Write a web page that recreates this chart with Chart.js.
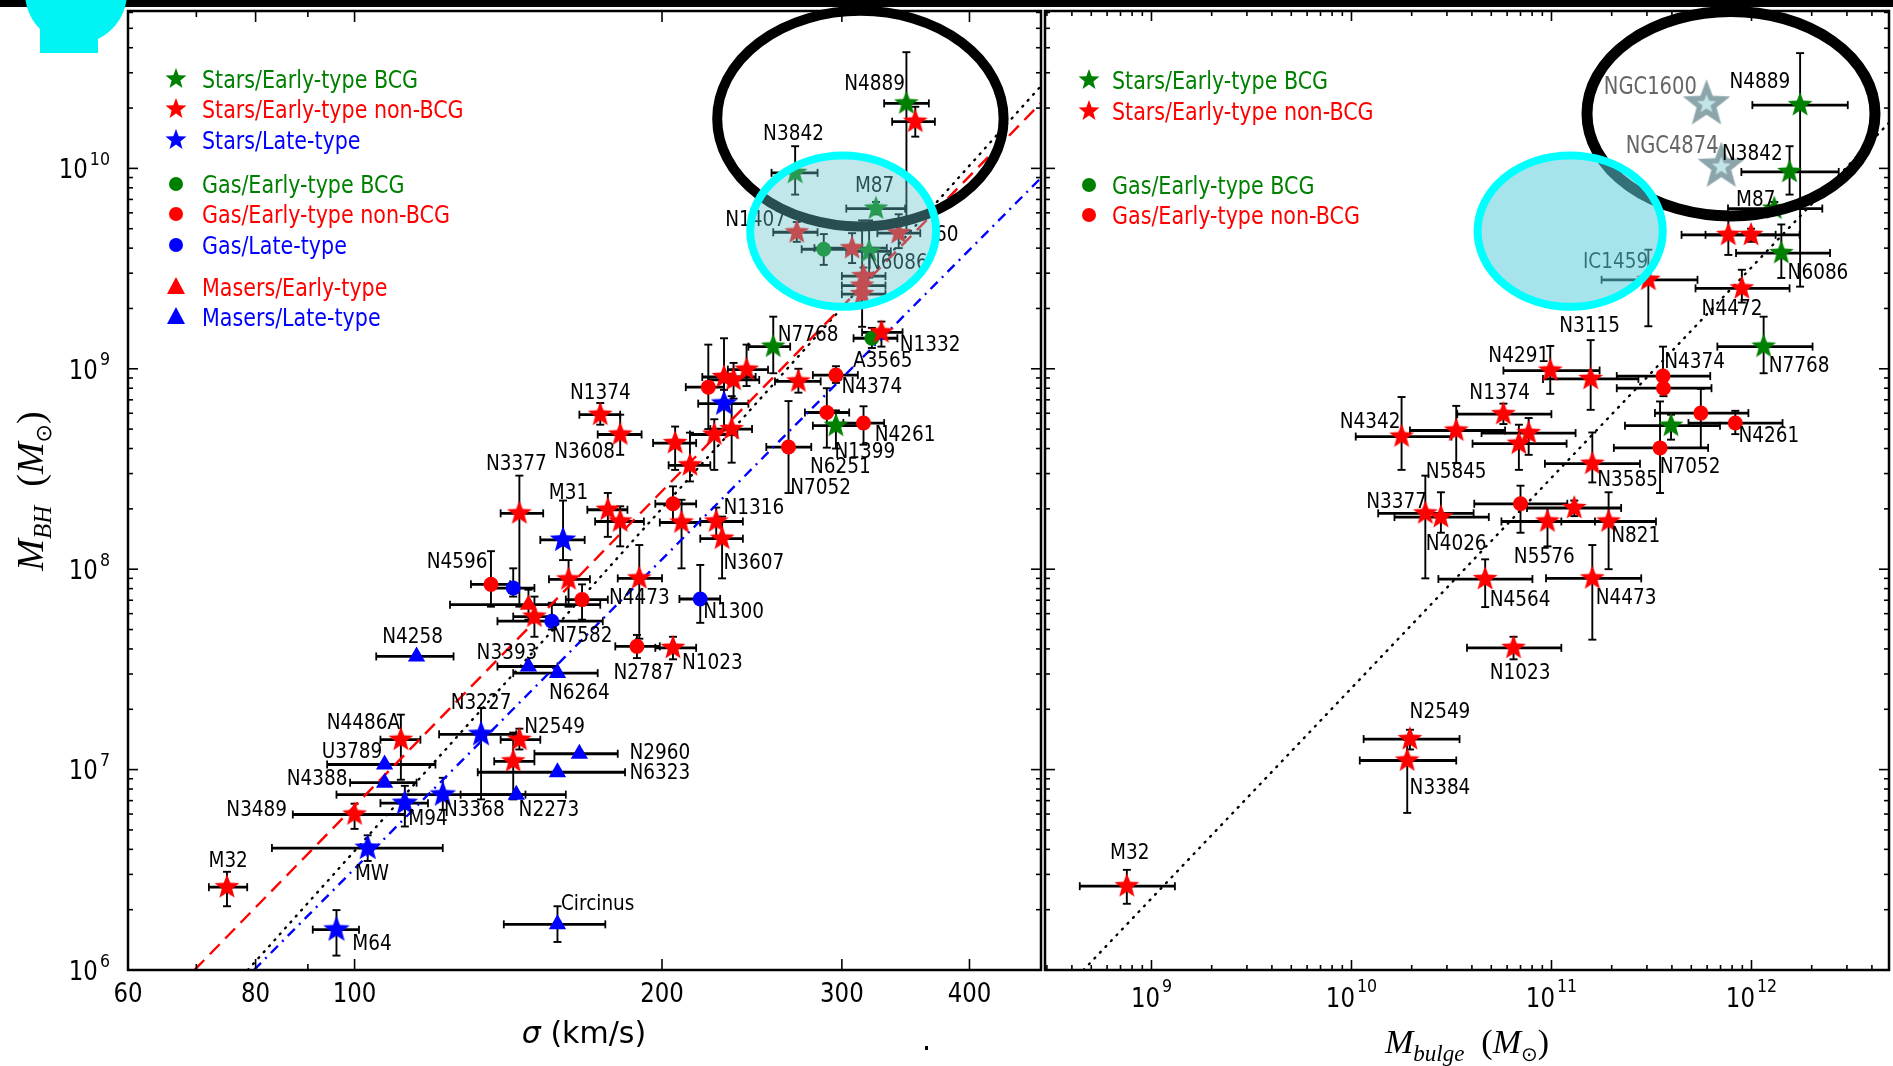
<!DOCTYPE html>
<html>
<head>
<meta charset="utf-8">
<title>M-sigma and M-Mbulge</title>
<script src="https://cdn.jsdelivr.net/npm/chart.js@4.4.1/dist/chart.umd.min.js"></script>
<style>
  html, body { margin: 0; padding: 0; background: #fff; }
  #page { position: relative; width: 1893px; height: 1066px; overflow: hidden; background: #fff; }
  canvas { position: absolute; top: 0; }
  #cLeft { left: 0; }
  #cRight { left: 1043px; }
  .topband { position: absolute; left: 0; top: 0; width: 1893px; height: 7px; background: #000; }
  .blob1 { position: absolute; left: 25px; top: -58px; width: 102px; height: 102px; border-radius: 50%; background: #00f4f4; }
  .blob2 { position: absolute; left: 40px; top: 0; width: 58px; height: 53px; background: #00f4f4; }
  .speck { position: absolute; left: 925px; top: 1046px; width: 3px; height: 4px; background: #000; }
</style>
</head>
<body>
<div id="page">
  <canvas id="cLeft" width="1043" height="1066"></canvas>
  <canvas id="cRight" width="850" height="1066"></canvas>
  <div class="topband"></div>
  <div class="blob1"></div><div class="blob2"></div>
  <div class="speck"></div>
</div>
<script>
const GREEN = '#008000', RED = '#ff0000', BLUE = '#0000ff';

// ---- left panel: sigma (km/s) vs M_BH (Msun)
// rows: [sigma, sigma low, sigma high, M_BH, M low, M high]
const sigStarsBCG = [
  [347, 330, 365, 2.11e10, 4.9e9, 3.8e10],
  [270, 256, 284, 9.5e9, 7.4e9, 1.29e10],
  [324, 303, 346, 6.3e9, 5.9e9, 6.8e9],
  [319, 303, 335, 3.85e9, 2.85e9, 5.5e9],
  [257, 243, 267, 1.29e9, 9.5e8, 1.82e9],
  [296, 281, 313, 5.2e8, 4.0e8, 6.2e8]
];
const sigStarsNonBCG = [
  [354, 336, 370, 1.71e10, 1.44e10, 2.03e10],
  [271, 257, 284, 4.8e9, 4.3e9, 5.4e9],
  [307, 282, 332, 4.0e9, 3.37e9, 4.75e9],
  [341, 325, 358, 4.75e9, 4.0e9, 5.9e9],
  [315, 300, 331, 2.9e9, 2.6e9, 3.2e9],
  [314, 300, 331, 2.6e9, 1.62e9, 5.5e9],
  [314, 300, 331, 2.36e9, 2.15e9, 2.6e9],
  [328, 314, 344, 1.52e9, 1.29e9, 1.72e9],
  [272, 258, 286, 8.65e8, 7.6e8, 1.0e9],
  [230, 219, 247, 9.1e8, 7.0e8, 1.42e9],
  [235, 222, 249, 8.8e8, 7.1e8, 1.07e9],
  [242, 232, 254, 9.9e8, 8.2e8, 1.32e9],
  [225, 213, 237, 4.7e8, 3.13e8, 5.6e8],
  [234, 223, 245, 5.0e8, 3.4e8, 7.3e8],
  [206, 196, 216, 4.26e8, 3.13e8, 5.15e8],
  [213, 203, 223, 3.3e8, 2.74e8, 4.8e8],
  [209, 199, 218, 1.71e8, 1.01e8, 2.22e8],
  [226, 218, 240, 1.73e8, 1.44e8, 2.03e8],
  [229, 218, 240, 1.42e8, 9.0e7, 1.83e8],
  [177, 169, 185, 1.98e8, 1.45e8, 2.4e8],
  [182, 172, 192, 1.73e8, 1.3e8, 2.06e8],
  [190, 181, 200, 9.0e7, 4.5e7, 1.32e8],
  [205, 197, 216, 4.05e7, 3.55e7, 4.6e7],
  [174, 166, 182, 5.9e8, 5.26e8, 6.75e8],
  [182, 173, 191, 4.7e8, 3.72e8, 5.9e8],
  [145, 139, 153, 1.9e8, 6.5e7, 2.93e8],
  [162, 155, 170, 8.9e7, 6.5e7, 1.11e8],
  [150, 143, 156, 5.8e7, 4.6e7, 7.3e7],
  [111, 106, 116, 1.41e7, 8.9e6, 1.88e7],
  [145, 139, 152, 1.41e7, 1.26e7, 1.6e7],
  [143, 137, 150, 1.1e7, 7.1e6, 1.53e7],
  [100, 87, 112, 5.97e6, 5.06e6, 6.76e6],
  [75, 72, 78.5, 2.59e6, 2.08e6, 3.09e6]
];
const sigStarsLate = [
  [230, 217, 243, 6.7e8, 4.97e8, 7.85e8],
  [160, 152, 168, 1.4e8, 1.11e8, 2.2e8],
  [133, 121, 144, 1.5e7, 7.1e6, 2.03e7],
  [122, 96, 147, 7.5e6, 6.3e6, 9.1e6],
  [112, 106, 118, 6.8e6, 5.2e6, 8.3e6],
  [103, 83, 122, 4.06e6, 3.5e6, 4.7e6],
  [96, 91, 101, 1.59e6, 1.18e6, 1.99e6]
];
const sigGasBCG = [
  [288, 274, 309, 3.95e9, 3.3e9, 4.7e9],
  [321, 308, 340, 1.42e9, 1.27e9, 1.6e9]
];
const sigGasNonBCG = [
  [296, 281, 311, 9.3e8, 8.5e8, 1.03e9],
  [222, 211, 230, 8.1e8, 5.0e8, 1.32e9],
  [290, 276, 305, 6.05e8, 4.04e8, 8.0e8],
  [315, 301, 330, 5.36e8, 4.18e8, 6.5e8],
  [266, 253, 280, 4.07e8, 2.4e8, 6.9e8],
  [205, 197, 216, 2.12e8, 1.7e8, 2.59e8],
  [189, 180, 199, 4.12e7, 3.6e7, 4.7e7],
  [136, 130, 142, 8.4e7, 6.5e7, 1.23e8],
  [167, 161, 177, 7.05e7, 5.6e7, 8.4e7]
];
const sigGasLate = [
  [143, 136, 150, 8.05e7, 7.3e7, 1.01e8],
  [156, 138, 175, 5.5e7, 5.0e7, 6.8e7],
  [218, 208, 228, 7.1e7, 5.4e7, 1.05e8]
];
const sigMasersEarly = [
  [148, 124, 174, 6.65e7, 5.6e7, 7.9e7]
];
const sigMasersLate = [
  [115, 105, 125, 3.67e7, 3.67e7, 3.67e7],
  [148, 138, 158, 3.27e7, 3.27e7, 3.27e7],
  [158, 143, 173, 3.03e7, 3.03e7, 3.03e7],
  [166, 150, 181, 1.2e7, 1.2e7, 1.2e7],
  [158, 132, 184, 9.7e6, 9.7e6, 9.7e6],
  [107, 94, 120, 1.06e7, 1.06e7, 1.06e7],
  [107, 99, 115, 8.6e6, 8.6e6, 8.6e6],
  [144, 127, 161, 7.5e6, 7.5e6, 7.5e6],
  [158, 140, 176, 1.69e6, 1.38e6, 2.08e6]
];
// fit lines: [sigma, M_BH] end points
const sigFitRed = [[69.7, 1e6], [470, 2.12e10]];
const sigFitBlack = [[78.6, 1e6], [470, 2.58e10]];
const sigFitBlue = [[79.7, 1e6], [470, 8.97e9]];
// galaxy names: [text, sigma, M_BH]
const sigLabels = [
  ['N4889', 323, 2.66e10], ['N3842', 269, 1.49e10], ['M87', 323, 8.2e9],
  ['N1407', 247, 5.53e9], ['60', 380, 4.66e9], ['N6086', 340, 3.37e9],
  ['N7768', 278, 1.48e9], ['N1332', 366, 1.32e9], ['A3565', 329, 1.1e9],
  ['N4374', 321, 8.17e8], ['N4261', 346, 4.69e8], ['N1399', 316, 3.87e8],
  ['N6251', 299, 3.24e8], ['N7052', 286, 2.54e8], ['N1316', 246, 2.02e8],
  ['N3607', 246, 1.08e8], ['N4473', 190, 7.18e7], ['N1300', 235, 6.12e7],
  ['N2787', 192, 3.03e7], ['N1023', 224, 3.43e7], ['N1374', 174, 7.57e8],
  ['N3608', 168, 3.87e8], ['N3377', 144, 3.35e8], ['M31', 162, 2.42e8],
  ['N4596', 126, 1.09e8], ['N7582', 167, 4.66e7], ['N4258', 114, 4.62e7],
  ['N3393', 141, 3.82e7], ['N6264', 166, 2.43e7], ['N3227', 133, 2.15e7],
  ['N4486A', 102, 1.71e7], ['N2549', 157, 1.64e7], ['U3789', 99.4, 1.23e7],
  ['N2960', 199, 1.21e7], ['N6323', 199, 9.63e6], ['N4388', 91.9, 8.99e6],
  ['N3368', 131, 6.31e6], ['N2273', 155, 6.31e6], ['M94', 118, 5.67e6],
  ['N3489', 80.2, 6.31e6], ['M32', 75.2, 3.52e6], ['MW', 104, 3.02e6],
  ['Circinus', 173, 2.15e6], ['M64', 104, 1.35e6]
];
// highlight rings: [x left, x right, y top, y bottom]
const sigBlackRing = [226.5, 432, 6.11e10, 5.13e9];
const sigCyanRing = [244, 371, 1.16e10, 2.04e9];
const sigTicks = [60, 80, 100, 200, 300, 400];
const sigMinorTicks = [70, 90];

// ---- right panel: M_bulge vs M_BH
// rows: [M_bulge, low, high, M_BH, M low, M high]
const bulStarsBCG = [
  [1.75e12, 1.01e12, 3.03e12, 2.07e10, 2.57e9, 3.76e10],
  [1.55e12, 8.9e11, 2.73e12, 9.6e9, 7.4e9, 1.29e10],
  [1.30e12, 7.63e11, 2.26e12, 6.3e9, 5.9e9, 6.8e9],
  [1.41e12, 8.37e11, 2.47e12, 3.78e9, 2.84e9, 5.25e9],
  [1.15e12, 6.75e11, 2.02e12, 1.29e9, 9.5e8, 1.82e9],
  [3.96e11, 2.33e11, 6.96e11, 5.2e8, 4.43e8, 5.9e8]
];
const bulStarsNonBCG = [
  [7.66e11, 4.47e11, 1.32e12, 4.66e9, 3.7e9, 5.75e9],
  [9.95e11, 5.89e11, 1.74e12, 4.66e9, 4.3e9, 5.0e9],
  [3.05e11, 1.78e11, 5.37e11, 2.78e9, 1.63e9, 3.93e9],
  [8.95e11, 5.25e11, 1.55e12, 2.52e9, 2.14e9, 3.12e9],
  [9.86e10, 5.75e10, 1.74e11, 9.8e8, 7.5e8, 1.3e9],
  [1.57e11, 9.07e10, 2.72e11, 8.9e8, 6.24e8, 1.39e9],
  [5.75e10, 3.38e10, 9.99e10, 5.94e8, 5.3e8, 6.7e8],
  [1.78e10, 1.05e10, 3.16e10, 4.59e8, 3.13e8, 7.23e8],
  [3.34e10, 1.96e10, 5.86e10, 4.92e8, 3.39e8, 6.53e8],
  [7.69e10, 4.47e10, 1.32e11, 4.78e8, 3.72e8, 5.68e8],
  [6.87e10, 4.03e10, 1.19e11, 4.23e8, 3.13e8, 5.26e8],
  [1.6e11, 9.27e10, 2.77e11, 3.36e8, 2.71e8, 4.81e8],
  [1.3e11, 7.54e10, 2.23e11, 2.02e8, 1.84e8, 2.2e8],
  [2.34e10, 1.36e10, 4.08e10, 1.9e8, 9.0e7, 2.93e8],
  [2.8e10, 1.64e10, 4.86e10, 1.82e8, 1.52e8, 2.42e8],
  [9.55e10, 5.62e10, 1.65e11, 1.73e8, 1.3e8, 2.02e8],
  [1.93e11, 1.12e11, 3.33e11, 1.73e8, 1.0e8, 2.42e8],
  [4.66e10, 2.72e10, 8.03e10, 8.93e7, 6.47e7, 1.12e8],
  [1.6e11, 9.39e10, 2.81e11, 9.0e7, 4.45e7, 1.32e8],
  [6.46e10, 3.78e10, 1.12e11, 4.05e7, 3.55e7, 4.6e7],
  [1.96e10, 1.15e10, 3.47e10, 1.42e7, 1.26e7, 1.58e7],
  [1.9e10, 1.1e10, 3.34e10, 1.11e7, 6.08e6, 1.41e7],
  [7.53e8, 4.38e8, 1.31e9, 2.62e6, 2.14e6, 3.16e6]
];
const bulGasNonBCG = [
  [3.61e11, 2.12e11, 6.22e11, 9.2e8, 8.3e8, 1.29e9],
  [3.63e11, 2.12e11, 6.31e11, 8.0e8, 7.3e8, 8.8e8],
  [5.58e11, 3.29e11, 9.65e11, 6.01e8, 4.03e8, 7.94e8],
  [8.3e11, 4.84e11, 1.43e12, 5.36e8, 4.72e8, 6.17e8],
  [3.49e11, 2.05e11, 6.07e11, 4.03e8, 2.4e8, 6.87e8],
  [7.0e10, 4.11e10, 1.2e11, 2.12e8, 1.52e8, 2.61e8]
];
// NGC1600 and NGC4874 (grey stars): [M_bulge, M_BH]
const bulHighlight = [[5.96e11, 2.09e10], [7.06e11, 1.02e10]];
const bulFit = [[4.57e8, 1e6], [4.87e12, 1.69e10]];
const bulLabels = [
  ['N4889', 1.1e12, 2.71e10], ['N3842', 1.01e12, 1.19e10], ['M87', 1.05e12, 7.02e9],
  ['IC1459', 2.09e11, 3.43e9], ['N6086', 2.15e12, 3.02e9], ['N4472', 7.99e11, 1.99e9],
  ['N3115', 1.55e11, 1.64e9], ['N7768', 1.73e12, 1.04e9], ['N4291', 6.86e10, 1.16e9],
  ['N4374', 5.19e11, 1.09e9], ['N1374', 5.51e10, 7.57e8], ['N4342', 1.24e10, 5.46e8],
  ['N4261', 1.22e12, 4.63e8], ['N5845', 3.34e10, 3.05e8], ['N7052', 4.93e11, 3.26e8],
  ['N3585', 2.4e11, 2.79e8], ['N3377', 1.68e10, 2.18e8], ['N4026', 3.34e10, 1.34e8],
  ['N821', 2.64e11, 1.47e8], ['N5576', 9.2e10, 1.15e8], ['N4564', 6.96e10, 7.05e7],
  ['N4473', 2.36e11, 7.23e7], ['N1023', 6.96e10, 3.03e7], ['N2549', 2.77e10, 1.94e7],
  ['N3384', 2.77e10, 8.11e6], ['M32', 7.79e8, 3.85e6]
];
const bulHighlightLabels = [['NGC1600', 3.12e11, 2.54e10], ['NGC4874', 4.01e11, 1.29e10]];
const bulBlackRing = [1.505e11, 4.145e12, 6.07e10, 5.79e9];
const bulCyanRing = [4.27e10, 3.6e11, 1.16e10, 2.04e9];
const bulDecades = [9, 10, 11, 12];
const massDecades = [6, 7, 8, 9, 10];

// ---------------------------------------------------------------
function starCanvas(fill, r, innerFill, innerR) {
  const size = Math.ceil(2 * r + 4);
  const c = document.createElement('canvas');
  c.width = c.height = size;
  const g = c.getContext('2d');
  const path = rad => {
    g.beginPath();
    for (let i = 0; i < 10; i++) {
      const rr = i % 2 ? rad * 0.42 : rad;
      const a = -Math.PI / 2 + i * Math.PI / 5;
      g.lineTo(size / 2 + rr * Math.cos(a), size / 2 + rr * Math.sin(a));
    }
    g.closePath();
  };
  path(r); g.fillStyle = fill; g.fill();
  if (innerFill) { path(innerR); g.fillStyle = innerFill; g.fill(); }
  return c;
}
const starG = starCanvas(GREEN, 13), starR = starCanvas(RED, 13), starB = starCanvas(BLUE, 14);
const starGrey = starCanvas('#8ca5aa', 25, '#c2e5ea', 10);

const pts = rows => rows.map(r => ({ x: r[0], xMin: r[1], xMax: r[2], y: r[3], yMin: r[4], yMax: r[5] }));

function marks(rows, style, color, radius) {
  return { data: pts(rows), errorBars: true, pointStyle: style, pointRadius: radius,
    backgroundColor: color, borderColor: color, borderWidth: 0, order: 1 };
}
function fit(rows, color, dash, cap) {
  return { data: rows.map(r => ({ x: r[0], y: r[1] })), showLine: true, pointRadius: 0,
    borderColor: color, borderWidth: 2.4, borderDash: dash, borderCapStyle: cap || 'butt', order: 5 };
}

function drawText(ctx, s, x, y, font, color, align, sx) {
  ctx.save();
  ctx.font = font; ctx.fillStyle = color; ctx.textBaseline = 'middle'; ctx.textAlign = align || 'center';
  ctx.translate(x, y); ctx.scale(sx || 1, 1);
  ctx.fillText(s, 0, 0);
  ctx.restore();
}
// "10" with a raised exponent
function drawPow(ctx, exp, x, baseY, supY, align) {
  const sx = 0.88;
  ctx.save();
  ctx.font = '26px "DejaVu Sans"'; const wb = ctx.measureText('10').width * sx;
  ctx.font = '18px "DejaVu Sans"'; const ws = ctx.measureText(exp).width * sx;
  ctx.restore();
  const total = wb + 2 + ws;
  const start = align === 'right' ? x - total : x - total / 2;
  drawText(ctx, '10', start, baseY, '26px "DejaVu Sans"', '#000', 'left', sx);
  drawText(ctx, exp, start + wb + 2, supY, '18px "DejaVu Sans"', '#000', 'left', sx);
}
// math-like title made of segments
function drawSegments(ctx, segs, x, y) {
  ctx.save();
  let w = 0;
  segs.forEach(s => { ctx.font = s.f; w += ctx.measureText(s.t).width; });
  let cx = x - w / 2;
  ctx.fillStyle = '#000'; ctx.textBaseline = 'alphabetic'; ctx.textAlign = 'left';
  segs.forEach(s => { ctx.font = s.f; ctx.fillText(s.t, cx, y + (s.dy || 0)); cx += ctx.measureText(s.t).width; });
  ctx.restore();
}

function ring(ctx, x, y, box, stroke, width, fill) {
  const l = x.getPixelForValue(box[0]), r = x.getPixelForValue(box[1]);
  const t = y.getPixelForValue(box[2]), b = y.getPixelForValue(box[3]);
  ctx.save();
  ctx.beginPath();
  ctx.ellipse((l + r) / 2, (t + b) / 2, (r - l) / 2, (b - t) / 2, 0, 0, Math.PI * 2);
  if (fill) { ctx.fillStyle = fill; ctx.fill(); }
  ctx.strokeStyle = stroke; ctx.lineWidth = width; ctx.stroke();
  ctx.restore();
}

function legendMark(ctx, kind, color, x, y) {
  ctx.save(); ctx.fillStyle = color;
  if (kind === 'star') {
    const img = starCanvas(color, 11);
    ctx.drawImage(img, x - img.width / 2, y - img.height / 2);
  } else if (kind === 'circle') {
    ctx.beginPath(); ctx.arc(x, y, 7, 0, Math.PI * 2); ctx.fill();
  } else {
    ctx.beginPath(); ctx.moveTo(x, y - 10); ctx.lineTo(x + 9, y + 7); ctx.lineTo(x - 9, y + 7); ctx.closePath(); ctx.fill();
  }
  ctx.restore();
}

const errorBarPlugin = {
  id: 'errorBars',
  beforeDatasetsDraw(chart) {
    const { ctx, scales: { x, y } } = chart;
    const seg = (a, b, c, d) => { ctx.beginPath(); ctx.moveTo(a, b); ctx.lineTo(c, d); ctx.stroke(); };
    ctx.save();
    ctx.strokeStyle = '#000';
    chart.data.datasets.forEach(ds => {
      if (!ds.errorBars) return;
      ds.data.forEach(p => {
        const px = x.getPixelForValue(p.x), py = y.getPixelForValue(p.y);
        if (p.xMin !== p.xMax) {
          const a = x.getPixelForValue(p.xMin), b = x.getPixelForValue(p.xMax);
          ctx.lineWidth = 2.8; seg(a, py, b, py);
          ctx.lineWidth = 1.8; seg(a, py - 4, a, py + 4); seg(b, py - 4, b, py + 4);
        }
        if (p.yMin !== p.yMax) {
          const a = y.getPixelForValue(p.yMin), b = y.getPixelForValue(p.yMax);
          ctx.lineWidth = 1.9; seg(px, a, px, b);
          seg(px - 4, a, px + 4, a); seg(px - 4, b, px + 4, b);
        }
      });
    });
    ctx.restore();
  }
};

function panelPlugin(spec) {
  return {
    id: 'panel',
    afterDatasetsDraw(chart) {
      const { ctx, scales: { x, y } } = chart;
      spec.labels.forEach(l => drawText(ctx, l[0], x.getPixelForValue(l[1]), y.getPixelForValue(l[2]) + 1,
        '20.5px "DejaVu Sans"', '#000', 'center', 0.9));
      ring(ctx, x, y, spec.blackRing, '#000', spec.blackWidth);
      ring(ctx, x, y, spec.cyanRing, '#00ffff', 8, spec.cyanFill);
      (spec.greyLabels || []).forEach(l => drawText(ctx, l[0], x.getPixelForValue(l[1]), y.getPixelForValue(l[2]),
        '25px "DejaVu Sans"', '#666', 'center', 0.78));
    },
    afterDraw(chart) {
      const { ctx, chartArea: a, scales: { x, y } } = chart;
      const seg = (p, q, r, s) => { ctx.beginPath(); ctx.moveTo(p, q); ctx.lineTo(r, s); ctx.stroke(); };
      ctx.save();
      ctx.strokeStyle = '#000'; ctx.lineWidth = 1.6;
      spec.xTicks.forEach(([v, len]) => {
        const px = x.getPixelForValue(v);
        seg(px, a.bottom, px, a.bottom - len); seg(px, a.top, px, a.top + len);
      });
      massDecades.forEach(d => {
        for (let k = 1; k <= 9; k++) {
          const v = k * Math.pow(10, d);
          if (v < y.min || v > y.max) continue;
          const py = y.getPixelForValue(v), len = k === 1 ? 10 : 5;
          seg(a.left, py, a.left + len, py); seg(a.right, py, a.right - len, py);
        }
      });
      ctx.lineWidth = 2.5;
      ctx.strokeRect(a.left, a.top, a.right - a.left, a.bottom - a.top);
      ctx.restore();
      spec.axisText(ctx, a, x, y);
      spec.legend.forEach(r => {
        legendMark(ctx, r[0], r[1], spec.legendX, r[3]);
        drawText(ctx, r[2], spec.legendX + spec.legendGap, r[3] + 3, '24px "DejaVu Sans"', r[1], 'left', 0.86);
      });
    }
  };
}

function makeChart(id, datasets, xr, pad, spec) {
  return new Chart(document.getElementById(id), {
    type: 'scatter',
    data: { datasets },
    options: {
      responsive: false, animation: false, events: [],
      layout: { padding: pad, autoPadding: false },
      scales: {
        x: { type: 'logarithmic', min: xr[0], max: xr[1], display: false },
        y: { type: 'logarithmic', min: 1e6, max: 6.1e10, display: false }
      },
      plugins: { legend: { display: false }, tooltip: { enabled: false } }
    },
    plugins: [errorBarPlugin, panelPlugin(spec)]
  });
}

// ---------------- left panel
const leftTicks = sigTicks.filter(v => v > 60).map(v => [v, 11]).concat(sigMinorTicks.map(v => [v, 6]));
makeChart('cLeft', [
  fit(sigFitRed, RED, [14, 8]),
  fit(sigFitBlack, '#000', [1, 7], 'round'),
  fit(sigFitBlue, BLUE, [10, 6, 2, 6]),
  marks(sigStarsLate, starB, BLUE, 14),
  marks(sigGasLate, 'circle', BLUE, 7.5),
  marks(sigMasersLate, 'triangle', BLUE, 10),
  marks(sigMasersEarly, 'triangle', RED, 10),
  marks(sigGasNonBCG, 'circle', RED, 7.5),
  marks(sigStarsNonBCG, starR, RED, 13),
  marks(sigGasBCG, 'circle', GREEN, 7.5),
  marks(sigStarsBCG, starG, GREEN, 13)
], [60, 470], { left: 128, right: 2, top: 11, bottom: 96 }, {
  labels: sigLabels, blackRing: sigBlackRing, blackWidth: 10, cyanRing: sigCyanRing,
  cyanFill: 'rgba(100,195,205,0.40)', xTicks: leftTicks, legendX: 176, legendGap: 26,
  legend: [
    ['star', GREEN, 'Stars/Early-type BCG', 79], ['star', RED, 'Stars/Early-type non-BCG', 109],
    ['star', BLUE, 'Stars/Late-type', 140], ['circle', GREEN, 'Gas/Early-type BCG', 184],
    ['circle', RED, 'Gas/Early-type non-BCG', 214], ['circle', BLUE, 'Gas/Late-type', 245],
    ['tri', RED, 'Masers/Early-type', 287], ['tri', BLUE, 'Masers/Late-type', 317]
  ],
  axisText(ctx, a, x, y) {
    sigTicks.forEach(v => drawText(ctx, String(v), x.getPixelForValue(v), a.bottom + 25, '26px "DejaVu Sans"', '#000', 'center', 0.88));
    massDecades.forEach(d => {
      const py = y.getPixelForValue(Math.pow(10, d));
      drawPow(ctx, String(d), a.left - 18, py + 3, py - 8, 'right');
    });
    drawSegments(ctx, [
      { t: 'σ', f: 'italic 30px "DejaVu Sans"' }, { t: ' (km/s)', f: '30px "DejaVu Sans"' }
    ], 584, 1043);
    ctx.save();
    ctx.translate(43, 491); ctx.rotate(-Math.PI / 2);
    drawSegments(ctx, [
      { t: 'M', f: 'italic 38px "Liberation Serif"' }, { t: 'BH', f: 'italic 25px "Liberation Serif"', dy: 8 },
      { t: '  (', f: '38px "Liberation Serif"' }, { t: 'M', f: 'italic 38px "Liberation Serif"' },
      { t: '⊙', f: '22px "DejaVu Sans"', dy: 8 }, { t: ')', f: '38px "Liberation Serif"' }
    ], 0, 0);
    ctx.restore();
  }
});

// ---------------- right panel
const rightTicks = [];
[8, 9, 10, 11, 12].forEach(d => {
  for (let k = 1; k <= 9; k++) {
    const v = k * Math.pow(10, d);
    if (v > 2.94e8 && v < 4.86e12) rightTicks.push([v, k === 1 ? 10 : 5]);
  }
});
makeChart('cRight', [
  fit(bulFit, '#000', [1, 7], 'round'),
  marks(bulGasNonBCG, 'circle', RED, 7.5),
  marks(bulStarsNonBCG, starR, RED, 13),
  marks(bulStarsBCG, starG, GREEN, 13),
  { data: bulHighlight.map(r => ({ x: r[0], y: r[1] })), pointStyle: starGrey, pointRadius: 25, order: 0 }
], [2.935e8, 4.87e12], { left: 2, right: 4, top: 11, bottom: 96 }, {
  labels: bulLabels, greyLabels: bulHighlightLabels, blackRing: bulBlackRing, blackWidth: 11,
  cyanRing: bulCyanRing, cyanFill: 'rgba(95,204,218,0.55)', xTicks: rightTicks, legendX: 46, legendGap: 23,
  legend: [
    ['star', GREEN, 'Stars/Early-type BCG', 80], ['star', RED, 'Stars/Early-type non-BCG', 111],
    ['circle', GREEN, 'Gas/Early-type BCG', 185], ['circle', RED, 'Gas/Early-type non-BCG', 215]
  ],
  axisText(ctx, a, x, y) {
    bulDecades.forEach(d => {
      drawPow(ctx, String(d), x.getPixelForValue(Math.pow(10, d)), a.bottom + 30, a.bottom + 17, 'center');
    });
    drawSegments(ctx, [
      { t: 'M', f: 'italic 34px "Liberation Serif"' }, { t: 'bulge', f: 'italic 23px "Liberation Serif"', dy: 8 },
      { t: '  (', f: '34px "Liberation Serif"' }, { t: 'M', f: 'italic 34px "Liberation Serif"' },
      { t: '⊙', f: '20px "DejaVu Sans"', dy: 8 }, { t: ')', f: '34px "Liberation Serif"' }
    ], 1467 - 1043, 1053);
  }
});
</script>
</body>
</html>
